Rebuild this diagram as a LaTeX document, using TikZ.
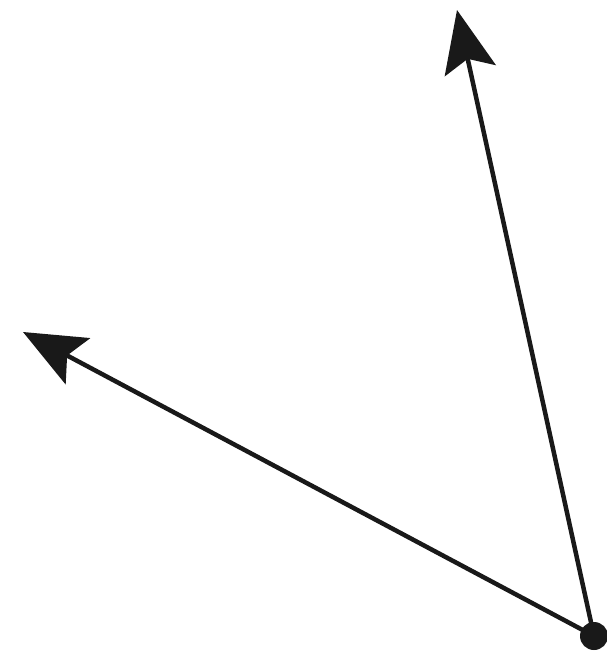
\documentclass[tikz,border=0pt]{standalone}
\usetikzlibrary{arrows.meta}
\begin{document}
\begin{tikzpicture}[x=1pt,y=-1pt,
  vec/.style={line width=4.5pt,-{Stealth[length=62pt,width=52pt,inset=12pt]}},
  dotnode/.style={circle,fill=black!90,inner sep=0pt,minimum size=28pt}]
\useasboundingbox (0,0) rectangle (606,668);
\node[dotnode] (o) at (594,636) {};
\coordinate (t) at (457,10);
\coordinate (l) at (23,332);
\draw[vec,black!90] (o.center) -- (t);
\draw[vec,black!90] (o.center) -- (l);
\end{tikzpicture}
\end{document}
